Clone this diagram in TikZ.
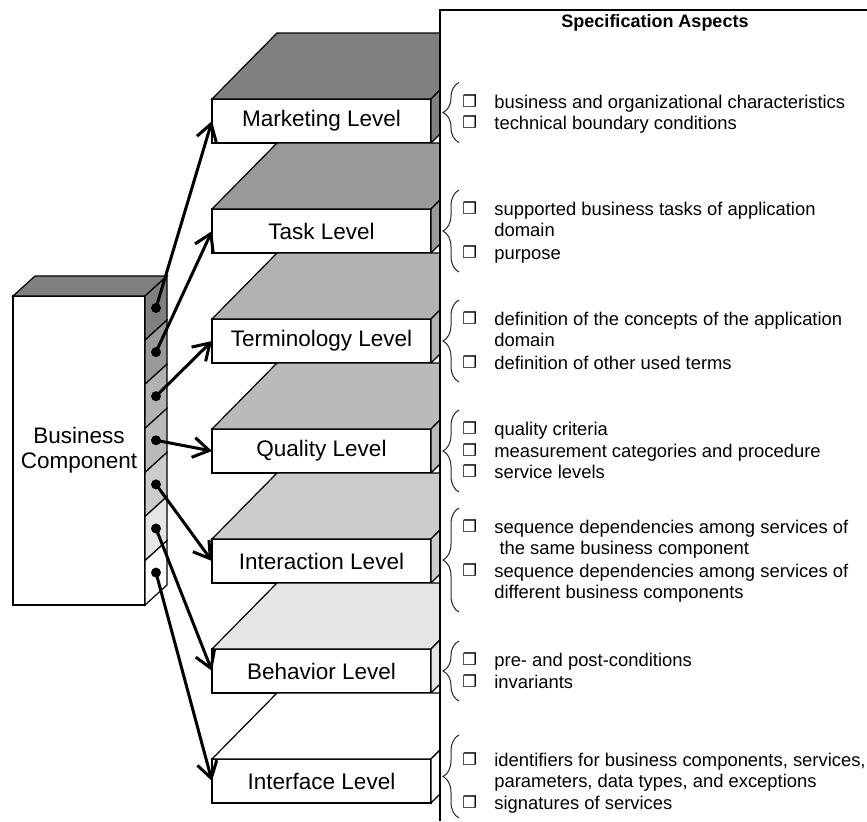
\documentclass[tikz,border=0pt]{standalone}
\usepackage{fontspec}
\setmainfont{Liberation Sans}
\newfontfamily\symfont{DejaVu Sans}
\usetikzlibrary{positioning,arrows.meta,decorations.pathreplacing}

\begin{document}
\begin{tikzpicture}[x=0.5pt,y=0.5pt,node distance=55pt,on grid,
    level/.style={draw,fill=white,line width=0.6pt,inner sep=0pt,outer sep=0pt,
      minimum width=109.5pt,minimum height=22pt,font=\fontsize{11.25}{12.6}\selectfont},
    face/.style={draw,line width=0.6pt},
    pin/.style={circle,fill=black,inner sep=0pt,minimum size=5pt},
    link/.style={-{Straight Barb[length=8pt,width=10pt]},line width=1.5pt},
    aspect/.style={anchor=base west,align=left,inner sep=0pt,font=\fontsize{9.2}{10.85}\selectfont},
    tick/.style={anchor=base west,inner sep=0pt,font=\symfont\bfseries\fontsize{8.2}{9}\selectfont},
    group/.style={decorate,decoration={brace,amplitude=8pt},line width=0.5pt,black!85}]

\useasboundingbox (0,0) rectangle (867,-821);

% business component block
\node[draw,fill=white,line width=0.6pt,inner sep=0pt,outer sep=0pt,minimum width=66pt,
  minimum height=154.5pt,align=center,font=\fontsize{11.25}{12.6}\selectfont]
  (bc) at (79,-450.5) {Business\\Component};
\path[face,fill=black!50] (bc.north west) -- ++(22,20) -- ++(132,0) -- (bc.north east) -- cycle;
\path[face,fill=black!50] (145,-296)   -- ++(22,20) -- ++(0,-44.1) -- ++(-22,-20) -- cycle;
\path[face,fill=black!40] (145,-340.1) -- ++(22,20) -- ++(0,-44.1) -- ++(-22,-20) -- cycle;
\path[face,fill=black!30] (145,-384.2) -- ++(22,20) -- ++(0,-44.1) -- ++(-22,-20) -- cycle;
\path[face,fill=black!27] (145,-428.3) -- ++(22,20) -- ++(0,-44.1) -- ++(-22,-20) -- cycle;
\path[face,fill=black!20] (145,-472.4) -- ++(22,20) -- ++(0,-44.1) -- ++(-22,-20) -- cycle;
\path[face,fill=black!10] (145,-516.5) -- ++(22,20) -- ++(0,-44.1) -- ++(-22,-20) -- cycle;
\path[face,fill=white]    (145,-560.6) -- ++(22,20) -- ++(0,-44.4) -- ++(-22,-20) -- cycle;
\node[pin] (p1) at (156,-308) {};
\node[pin] (p2) at (156,-352.1) {};
\node[pin] (p3) at (156,-396.2) {};
\node[pin] (p4) at (156,-440.3) {};
\node[pin] (p5) at (156,-484.4) {};
\node[pin] (p6) at (156,-528.5) {};
\node[pin] (p7) at (156,-572.6) {};

% level boxes
\node[level] (mkt) at (321.5,-121) {Marketing Level};
\node[level] (task)  [below=of mkt]   {Task Level};
\node[level] (term)  [below=of task]  {Terminology Level};
\node[level] (qual)  [below=of term]  {Quality Level};
\node[level] (inter) [below=of qual]  {Interaction Level};
\node[level] (behav) [below=of inter] {Behavior Level};
\node[level] (iface) [below=of behav] {Interface Level};
\path[face,fill=black!50] (mkt.north west) -- ++(65,66) -- ++(219,0) -- (mkt.north east) -- cycle;
\path[face,fill=black!50] (mkt.north east) -- ++(65,66) -- ++(0,-44) -- (mkt.south east) -- cycle;
\path[face,fill=black!40] (task.north west) -- ++(65,66) -- ++(219,0) -- (task.north east) -- cycle;
\path[face,fill=black!40] (task.north east) -- ++(65,66) -- ++(0,-44) -- (task.south east) -- cycle;
\path[face,fill=black!30] (term.north west) -- ++(65,66) -- ++(219,0) -- (term.north east) -- cycle;
\path[face,fill=black!30] (term.north east) -- ++(65,66) -- ++(0,-44) -- (term.south east) -- cycle;
\path[face,fill=black!27] (qual.north west) -- ++(65,66) -- ++(219,0) -- (qual.north east) -- cycle;
\path[face,fill=black!27] (qual.north east) -- ++(65,66) -- ++(0,-44) -- (qual.south east) -- cycle;
\path[face,fill=black!20] (inter.north west) -- ++(65,66) -- ++(219,0) -- (inter.north east) -- cycle;
\path[face,fill=black!20] (inter.north east) -- ++(65,66) -- ++(0,-44) -- (inter.south east) -- cycle;
\path[face,fill=black!10] (behav.north west) -- ++(65,66) -- ++(219,0) -- (behav.north east) -- cycle;
\path[face,fill=black!10] (behav.north east) -- ++(65,66) -- ++(0,-44) -- (behav.south east) -- cycle;
\path[face,fill=white] (iface.north west) -- ++(65,66) -- ++(219,0) -- (iface.north east) -- cycle;
\path[face,fill=white] (iface.north east) -- ++(65,66) -- ++(0,-44) -- (iface.south east) -- cycle;

% specification panel
\fill[white] (440,-10) rectangle (867,-821);
\draw[line width=0.8pt] (440,-821) -- (440,-10) -- (867,-10);
\node[font=\bfseries\fontsize{9}{11}\selectfont] (head) at (655,-23) {Specification Aspects};

% multi-line texts sit on the baseline of their last line
\draw[group] (459,-142.5) -- (459,-82.5);
\node[tick] (mktb1) at (462,-107) {❒};
\node[aspect] (mkt1) at (494,-108) {business and organizational characteristics};
\node[tick] (mktb2) at (462,-128) {❒};
\node[aspect] (mkt2) at (494,-129) {technical boundary conditions};

\draw[group] (459,-272) -- (459,-190);
\node[tick] (taskb1) at (462,-214) {❒};
\node[aspect] (task1) at (494,-236.7) {supported business tasks of application\\domain};
\node[tick] (taskb2) at (462,-258) {❒};
\node[aspect] (task2) at (494,-259) {purpose};

\draw[group] (459,-382) -- (459,-300);
\node[tick] (termb1) at (462,-324) {❒};
\node[aspect] (term1) at (494,-346.7) {definition of the concepts of the application\\domain};
\node[tick] (termb2) at (462,-368) {❒};
\node[aspect] (term2) at (494,-369) {definition of other used terms};

\draw[group] (459,-492) -- (459,-410);
\node[tick] (qualb1) at (462,-434.5) {❒};
\node[aspect] (qual1) at (494,-435.5) {quality criteria};
\node[tick] (qualb2) at (462,-456) {❒};
\node[aspect] (qual2) at (494,-457) {measurement categories and procedure};
\node[tick] (qualb3) at (462,-477.5) {❒};
\node[aspect] (qual3) at (494,-478.5) {service levels};

\draw[group] (459,-612) -- (459,-508);
\node[tick] (interb1) at (462,-532) {❒};
\node[aspect] (inter1) at (494,-554.7) {sequence dependencies among services of\\\ the same business component};
\node[tick] (interb2) at (462,-576) {❒};
\node[aspect] (inter2) at (494,-598.7) {sequence dependencies among services of\\different business components};

\draw[group] (459,-701) -- (459,-641);
\node[tick] (behavb1) at (462,-665.5) {❒};
\node[aspect] (behav1) at (494,-666.5) {pre- and post-conditions};
\node[tick] (behavb2) at (462,-687) {❒};
\node[aspect] (behav2) at (494,-688) {invariants};

\draw[group] (459,-818) -- (459,-735);
\node[tick] (ifaceb1) at (462,-765) {❒};
\node[aspect] (iface1) at (494,-787.7) {identifiers for business components, services,\\parameters, data types, and exceptions};
\node[tick] (ifaceb2) at (462,-808) {❒};
\node[aspect] (iface2) at (494,-809) {signatures of services};

% links from the component to the levels
\draw[link] (p1.center) -- (mkt.west);
\draw[link] (p2.center) -- (task.west);
\draw[link] (p3.center) -- (term.west);
\draw[link] (p4.center) -- (qual.west);
\draw[link] (p5.center) -- (inter.west);
\draw[link] (p6.center) -- (behav.west);
\draw[link] (p7.center) -- (iface.west);
\end{tikzpicture}
\end{document}
